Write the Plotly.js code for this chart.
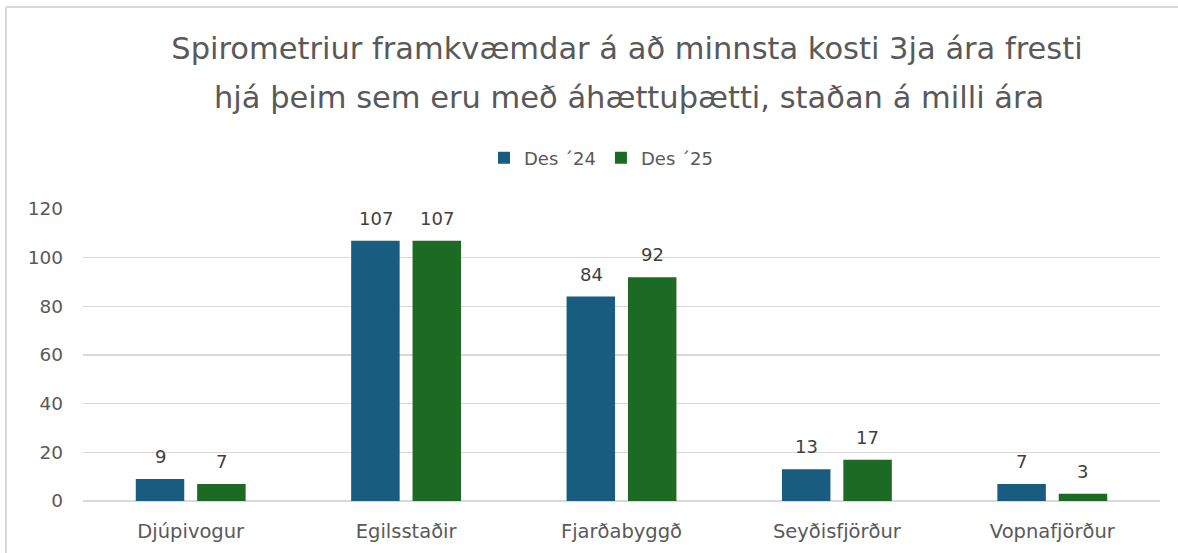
<!DOCTYPE html>
<html>
<head>
<meta charset="utf-8">
<script src="https://cdn.plot.ly/plotly-3.0.1.min.js"></script>
<style>html,body{margin:0;padding:0;background:#fff;}#chart{width:1178px;height:553px;}</style>
</head>
<body>
<div id="chart"></div>
<script>
const categories = ["Djúpivogur", "Egilsstaðir", "Fjarðabyggð", "Seyðisfjörður", "Vopnafjörður"];
const des24 = [9, 107, 84, 13, 7];
const des25 = [7, 107, 92, 17, 3];
const seriesNames = ["Des \u00b424", "Des \u00b425"];
const titleLine1 = "Spirometriur framkvæmdar á að minnsta kosti 3ja ára fresti";
const titleLine2 = "hjá þeim sem eru með áhættuþætti, staðan á milli ára";

const FONT = "'DejaVu Sans', 'Liberation Sans', Arial, sans-serif";
const colors = ["#185d80", "#1d6a24"];
const W = 1178, H = 553;
const L = 83, R = 18, T = 209, B = 52;
const pw = W - L - R, ph = H - T - B;

const traces = [des24, des25].map((vals, i) => ({
  type: "bar",
  name: seriesNames[i],
  x: categories,
  y: vals,
  marker: {color: colors[i]},
  hoverinfo: "x+y"
}));

const labelAnn = [];
[des24, des25].forEach((vals, i) => {
  vals.forEach((v, j) => {
    labelAnn.push({
      x: categories[j], y: v, xref: "x", yref: "y",
      text: String(v), showarrow: false,
      xshift: i === 0 ? -30.5 : 30.5, yshift: 10,
      yanchor: "bottom", xanchor: "center",
      font: {family: FONT, size: 18, color: "#404040"}
    });
  });
});

const layout = {
  width: W, height: H,
  margin: {l: L, r: R, t: T, b: B},
  paper_bgcolor: "#ffffff",
  plot_bgcolor: "#ffffff",
  font: {family: FONT, color: "#595959"},
  title: {
    text: titleLine1,
    font: {family: FONT, size: 30.5, color: "#595959"},
    x: 627 / W, xanchor: "center", xref: "container",
    y: 1 - 48 / H, yanchor: "middle", yref: "container"
  },
  barmode: "group",
  bargap: 0.43,
  bargroupgap: 0.21,
  showlegend: true,
  legend: {
    orientation: "h",
    x: (601 - L) / pw, xanchor: "center",
    y: (H - B - 158) / ph, yanchor: "middle",
    font: {family: FONT, size: 18, color: "#595959"},
    traceorder: "normal",
    itemwidth: 30
  },
  xaxis: {
    type: "category",
    showgrid: false,
    showline: false,
    zeroline: false,
    ticks: "",
    ticklabelstandoff: 16,
    tickfont: {family: FONT, size: 19.5, color: "#595959"},
    fixedrange: true
  },
  yaxis: {
    range: [0, 120],
    tickvals: [0, 20, 40, 60, 80, 100, 120],
    showgrid: true,
    gridcolor: "#d9d9d9",
    gridwidth: 1.5,
    zeroline: true,
    zerolinecolor: "#d9d9d9",
    zerolinewidth: 1.5,
    showline: false,
    ticks: "",
    ticklabelstandoff: 19,
    tickfont: {family: FONT, size: 18.5, color: "#595959"},
    fixedrange: true
  },
  annotations: [
    {
      text: titleLine2, showarrow: false,
      xref: "paper", yref: "paper",
      x: (629 - L) / pw, y: (H - B - 97) / ph,
      xanchor: "center", yanchor: "middle",
      font: {family: FONT, size: 30.5, color: "#595959"}
    }
  ].concat(labelAnn),
  shapes: [
    {type: "line", xref: "paper", yref: "paper",
     x0: (6 - L) / pw, x1: (6 - L) / pw, y0: (H - B - 7) / ph, y1: (H - B - 560) / ph,
     line: {color: "#d9d9d9", width: 2}},
    {type: "line", xref: "paper", yref: "paper",
     x0: (6 - L) / pw, x1: (1200 - L) / pw, y0: (H - B - 7) / ph, y1: (H - B - 7) / ph,
     line: {color: "#d9d9d9", width: 2}}
  ]
};

Plotly.newPlot("chart", traces, layout, {displayModeBar: false, staticPlot: true});
</script>
</body>
</html>
